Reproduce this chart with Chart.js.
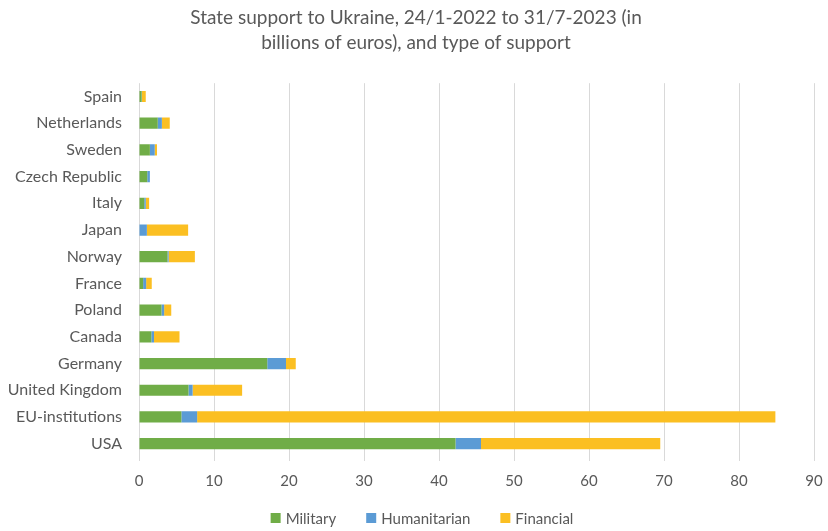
<!DOCTYPE html>
<html>
<head>
<meta charset="utf-8">
<script src="https://cdn.jsdelivr.net/npm/chart.js@4"></script>
<style>
  html, body { margin: 0; padding: 0; background: #fff; }
  #wrap { width: 828px; height: 531px; }
</style>
</head>
<body>
<div id="wrap"><canvas id="chart"></canvas></div>
<script>
// Countries, top to bottom as in the picture
const countries = ['Spain', 'Netherlands', 'Sweden', 'Czech Republic', 'Italy', 'Japan', 'Norway',
    'France', 'Poland', 'Canada', 'Germany', 'United Kingdom', 'EU-institutions', 'USA'];

// Billions of euros
const military     = [0.35, 2.5, 1.45, 1.1, 0.7, 0, 3.8, 0.55, 3.0, 1.65, 17.1, 6.6, 5.65, 42.2];
const humanitarian = [0.05, 0.55, 0.65, 0.35, 0.2, 1.05, 0.15, 0.4, 0.35, 0.35, 2.5, 0.55, 2.1, 3.4];
const financial    = [0.5, 1.05, 0.3, 0, 0.45, 5.5, 3.5, 0.75, 0.95, 3.4, 1.3, 6.6, 77.1, 23.9];

const xTicks = [0, 10, 20, 30, 40, 50, 60, 70, 80, 90];

const textColor = '#595959';
const font = "Lato, 'Open Sans', sans-serif";

// Excel-style legend under the axis: small squares, wide gaps between items
const bottomLegend = {
    id: 'bottomLegend',
    afterLayout(chart) {
        // centre the title over the whole picture, not the padded box
        chart.titleBlock.left += 3;
        chart.titleBlock.right += 3;
    },
    afterDraw(chart) {
        const c = chart.ctx;
        const box = 10, gap = 5, spacing = 30;
        c.save();
        c.font = '15px ' + font;
        c.textBaseline = 'middle';
        const items = chart.data.datasets.map(ds => ({
            text: ds.label,
            color: ds.backgroundColor,
            w: box + gap + c.measureText(ds.label).width
        }));
        const total = items.reduce((s, it) => s + it.w, 0) + spacing * (items.length - 1);
        let x = chart.width / 2 + 8 - total / 2;
        const y = chart.height - 13;
        items.forEach(it => {
            c.fillStyle = it.color;
            c.fillRect(x, y - box / 2, box, box);
            c.fillStyle = textColor;
            c.fillText(it.text, x + box + gap, y + 1);
            x += it.w + spacing;
        });
        c.restore();
    }
};

const ctx = document.getElementById('chart').getContext('2d');
new Chart(ctx, {
    type: 'bar',
    data: {
        labels: countries,
        datasets: [
            { label: 'Military', data: military, backgroundColor: '#70AD47' },
            { label: 'Humanitarian', data: humanitarian, backgroundColor: '#5B9BD5' },
            { label: 'Financial', data: financial, backgroundColor: '#FBBF22' }
        ]
    },
    plugins: [bottomLegend],
    options: {
        indexAxis: 'y',
        responsive: true,
        maintainAspectRatio: false,
        animation: false,
        categoryPercentage: 1,
        barPercentage: 0.42,
        layout: { padding: { left: 0, right: 2, top: 0, bottom: 30 } },
        scales: {
            x: {
                stacked: true,
                min: 0,
                max: 90,
                afterBuildTicks: axis => { axis.ticks = xTicks.map(v => ({ value: v })); },
                afterFit: axis => { axis.paddingRight = 14; },
                grid: { color: '#d9d9d9', lineWidth: 1, drawTicks: true, tickLength: 4 },
                border: { display: false },
                ticks: { color: textColor, font: { family: font, size: 15 }, padding: 11 }
            },
            y: {
                stacked: true,
                afterFit: axis => { axis.width = 139; },
                grid: { display: false, drawTicks: false },
                border: { display: false },
                ticks: { color: textColor, font: { family: font, size: 16 }, padding: 17 }
            }
        },
        plugins: {
            title: {
                display: true,
                text: ['State support to Ukraine, 24/1-2022 to 31/7-2023 (in', 'billions of euros), and type of support'],
                color: textColor,
                font: { family: font, size: 19, weight: 'normal', lineHeight: 1.32 },
                padding: { top: 5, bottom: 28 },
                align: 'center'
            },
            legend: { display: false },
            tooltip: { enabled: false }
        }
    }
});
</script>
</body>
</html>
